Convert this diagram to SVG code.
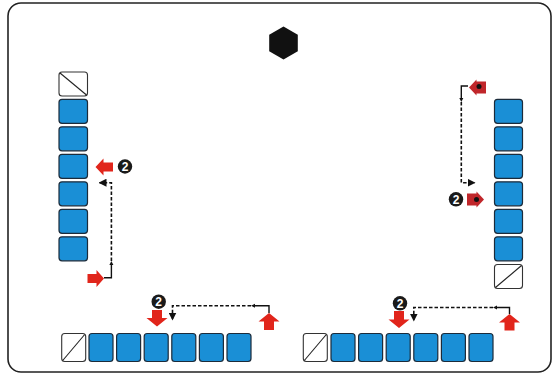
<svg xmlns="http://www.w3.org/2000/svg" width="553" height="375" viewBox="0 0 553 375">
<style>
.frame{fill:#fff;stroke:#222;stroke-width:1.6}
.sq{fill:#1a8fd6;stroke:#1c2b3a;stroke-width:1.2}
.wq{fill:#fff;stroke:#333;stroke-width:1.1}
.diag{stroke:#222;stroke-width:1.1}
.ra{fill:#e1251b}
.rd{fill:#c0262a}
.dot{fill:#111}
.solid{fill:none;stroke:#111;stroke-width:1.4}
.dash{fill:none;stroke:#111;stroke-width:1.6;stroke-dasharray:3.5 2}
.tip{fill:#111}
.badge{fill:#1a1a1a}
.num{fill:#fff;font-family:"Liberation Sans",Arial,sans-serif;font-weight:bold;font-size:12px;text-anchor:middle}
</style>
<defs>
<marker id="ah" viewBox="0 0 8 8" refX="7" refY="4" markerWidth="8" markerHeight="8" markerUnits="userSpaceOnUse" orient="auto">
<path d="M0,0 L8,4 L0,8 Z" fill="#111"/>
</marker>
</defs>
<rect class="frame" x="8" y="3" width="543" height="369" rx="13"/>
<g id="hexagon">
<polygon points="283.5,26.5 297.8,34.8 297.8,51.2 283.5,59.5 269.2,51.2 269.2,34.8" fill="#111"/>
</g>
<g id="left-column">
<rect class="wq" x="59" y="72" width="28.5" height="24" rx="3"/>
<line class="diag" x1="60" y1="73" x2="86.5" y2="95"/>
<rect class="sq" x="59" y="99.3" width="28.5" height="24" rx="3"/>
<rect class="sq" x="59" y="126.8" width="28.5" height="24" rx="3"/>
<rect class="sq" x="59" y="154.3" width="28.5" height="24" rx="3"/>
<rect class="sq" x="59" y="181.8" width="28.5" height="24" rx="3"/>
<rect class="sq" x="59" y="209.3" width="28.5" height="24" rx="3"/>
<rect class="sq" x="59" y="236.8" width="28.5" height="24" rx="3"/>
</g>
<g id="right-column">
<rect class="sq" x="494.5" y="99.3" width="28" height="24" rx="3"/>
<rect class="sq" x="494.5" y="126.8" width="28" height="24" rx="3"/>
<rect class="sq" x="494.5" y="154.3" width="28" height="24" rx="3"/>
<rect class="sq" x="494.5" y="181.8" width="28" height="24" rx="3"/>
<rect class="sq" x="494.5" y="209.3" width="28" height="24" rx="3"/>
<rect class="sq" x="494.5" y="236.8" width="28" height="24" rx="3"/>
<rect class="wq" x="494.5" y="264.5" width="28" height="24" rx="3"/>
<line class="diag" x1="495.5" y1="287.5" x2="521.5" y2="265.5"/>
</g>
<g id="bottom-left-row">
<rect class="wq" x="61.7" y="333.5" width="24" height="28" rx="3"/>
<line class="diag" x1="62.7" y1="360.5" x2="84.7" y2="334.5"/>
<rect class="sq" x="89" y="333.5" width="24" height="28" rx="3"/>
<rect class="sq" x="116.6" y="333.5" width="24" height="28" rx="3"/>
<rect class="sq" x="144.2" y="333.5" width="24" height="28" rx="3"/>
<rect class="sq" x="171.8" y="333.5" width="24" height="28" rx="3"/>
<rect class="sq" x="199.4" y="333.5" width="24" height="28" rx="3"/>
<rect class="sq" x="227" y="333.5" width="24" height="28" rx="3"/>
</g>
<g id="bottom-right-row">
<rect class="wq" x="303.3" y="333.5" width="24" height="28" rx="3"/>
<line class="diag" x1="304.3" y1="360.5" x2="326.3" y2="334.5"/>
<rect class="sq" x="331" y="333.5" width="24" height="28" rx="3"/>
<rect class="sq" x="358.6" y="333.5" width="24" height="28" rx="3"/>
<rect class="sq" x="386.2" y="333.5" width="24" height="28" rx="3"/>
<rect class="sq" x="413.8" y="333.5" width="24" height="28" rx="3"/>
<rect class="sq" x="441.4" y="333.5" width="24" height="28" rx="3"/>
<rect class="sq" x="469" y="333.5" width="24" height="28" rx="3"/>
</g>
<g id="red-arrows">
<path class="ra" d="M95.5,167 L103.5,158.5 L103.5,162.5 L113,162.5 L113,171.5 L103.5,171.5 L103.5,175.5 Z"/>
<path class="ra" d="M104,278.5 L96.5,270 L96.5,274 L87.5,274 L87.5,283 L96.5,283 L96.5,287 Z"/>
<path class="ra" d="M157,326.5 L146.5,318 L152,318 L152,310 L162,310 L162,318 L167.5,318 Z"/>
<path class="ra" d="M269,313 L279.5,321.5 L274,321.5 L274,330 L264,330 L264,321.5 L258.5,321.5 Z"/>
<path class="ra" d="M399,328 L388.5,319.5 L394,319.5 L394,311 L404,311 L404,319.5 L409.5,319.5 Z"/>
<path class="ra" d="M509.5,314 L520,322.5 L514.5,322.5 L514.5,330.5 L504.5,330.5 L504.5,322.5 L499,322.5 Z"/>
<path class="rd" d="M469,87.5 L476.5,79.5 L476.5,81.5 L486,81.5 L486,93.5 L476.5,93.5 L476.5,95.5 Z"/>
<circle class="dot" cx="479" cy="86.5" r="2.5"/>
<path class="rd" d="M484,199.5 L476.5,191.5 L476.5,193.5 L467,193.5 L467,205.5 L476.5,205.5 L476.5,207.5 Z"/>
<circle class="dot" cx="476.5" cy="199.5" r="2.5"/>
</g>
<g id="badges">
<circle class="badge" cx="125" cy="166.5" r="7.2"/><text class="num" x="125" y="170.8">2</text>
<circle class="badge" cx="158.7" cy="301.7" r="7.2"/><text class="num" x="158.7" y="306">2</text>
<circle class="badge" cx="400" cy="303.3" r="7.2"/><text class="num" x="400" y="307.6">2</text>
<circle class="badge" cx="456" cy="199.3" r="7.2"/><text class="num" x="456" y="203.6">2</text>
</g>
<g id="connectors">
<path class="solid" d="M104,277.7 H111.4 V264"/>
<path class="tip" d="M111.4,261 L109.4,265 L113.4,265 Z"/>
<path class="dash" d="M111.4,261 V182.7 H99.5" marker-end="url(#ah)"/>
<path class="solid" d="M269,313 V305.7 H254"/>
<path class="tip" d="M251,305.7 L255,303.7 L255,307.7 Z"/>
<path class="dash" d="M251,305.7 H172.5 V319.5" marker-end="url(#ah)"/>
<path class="solid" d="M509.5,314 V307.5 H496"/>
<path class="tip" d="M493,307.5 L497,305.5 L497,309.5 Z"/>
<path class="dash" d="M493,307.5 H413.8 V320.5" marker-end="url(#ah)"/>
<path class="solid" d="M468,86 H461.3 V99"/>
<path class="tip" d="M461.3,102 L459.3,98 L463.3,98 Z"/>
<path class="dash" d="M461.3,102 V182.7 H474.5" marker-end="url(#ah)"/>
</g>
</svg>
